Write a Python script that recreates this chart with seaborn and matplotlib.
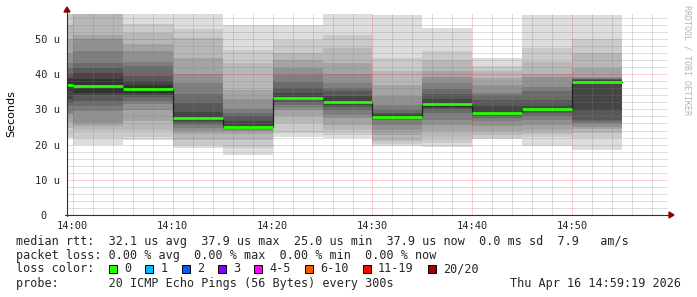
import numpy as np
import pandas as pd
import matplotlib
matplotlib.use("Agg")
import matplotlib.pyplot as plt
from matplotlib.lines import Line2D
from matplotlib.patches import Rectangle, Polygon
import seaborn as sns

# ---------------- data ----------------
slot_start = ["13:55", "14:00", "14:05", "14:10", "14:15", "14:20",
              "14:25", "14:30", "14:35", "14:40", "14:45", "14:50"]
median_rtt_us = [37.0, 36.6, 35.8, 27.5, 25.0, 33.2, 32.0, 27.9, 31.4, 29.0, 30.1, 37.9]

pings_1355 = [21.9, 22.3, 24.7, 26.5, 28.5, 29.0, 31.0, 31.8, 32.9, 35.5,
              38.5, 38.9, 40.0, 41.8, 43.3, 46.1, 50.0, 54.0, 57.0, 58.0]
pings_1400 = [20.0, 21.9, 24.2, 25.2, 26.1, 29.5, 30.9, 32.3, 34.0, 34.6,
              38.6, 40.3, 41.7, 43.3, 46.5, 49.9, 51.2, 58.0, 59.0, 60.0]
pings_1405 = [21.4, 22.3, 24.2, 26.6, 29.9, 31.5, 32.5, 33.5, 34.2, 34.8,
              36.8, 38.0, 39.5, 42.3, 43.4, 46.5, 48.5, 51.6, 54.3, 57.0]
pings_1410 = [19.1, 19.9, 21.2, 22.9, 24.0, 24.7, 25.6, 26.2, 26.6, 27.0,
              28.0, 29.4, 31.9, 34.5, 37.5, 40.1, 44.7, 50.3, 52.7, 57.0]
pings_1415 = [17.1, 19.1, 21.4, 23.0, 24.0, 24.2, 24.4, 24.6, 24.7, 24.8,
              25.2, 26.6, 28.0, 29.0, 30.1, 33.0, 35.6, 43.2, 47.0, 53.9]
pings_1420 = [22.3, 23.3, 26.1, 28.0, 29.9, 30.5, 31.3, 32.0, 32.6, 32.9,
              33.5, 34.6, 36.0, 37.9, 39.8, 41.7, 44.1, 46.0, 49.8, 54.0]
pings_1425 = [21.9, 22.8, 24.2, 25.6, 27.5, 28.5, 29.9, 30.8, 31.2, 31.6,
              32.4, 33.7, 35.1, 36.0, 37.5, 40.1, 43.2, 47.4, 51.2, 57.0]
pings_1430 = [19.5, 20.3, 20.9, 22.8, 24.2, 25.6, 27.1, 27.3, 27.5, 27.6,
              28.2, 28.6, 29.0, 29.9, 31.3, 33.7, 37.0, 40.8, 44.6, 56.9]
pings_1435 = [19.2, 20.5, 22.3, 23.8, 25.6, 27.1, 29.0, 30.0, 30.4, 30.8,
              32.0, 33.0, 34.4, 35.8, 37.5, 39.2, 40.8, 44.0, 46.5, 53.0]
pings_1440 = [21.5, 21.9, 22.8, 23.9, 25.2, 26.6, 27.5, 28.0, 28.3, 28.6,
              29.4, 30.9, 32.7, 34.0, 34.8, 37.0, 39.0, 41.0, 42.2, 44.6]
pings_1445 = [19.5, 22.3, 23.0, 24.2, 25.6, 27.1, 28.0, 28.9, 29.5, 29.9,
              30.3, 31.0, 32.7, 35.1, 36.5, 39.2, 40.1, 43.6, 47.4, 56.9]
pings_1450 = [18.6, 21.9, 23.3, 24.4, 25.0, 25.9, 26.5, 27.1, 29.9, 37.7,
              38.1, 38.3, 38.5, 38.7, 38.9, 39.2, 41.8, 46.0, 50.0, 56.9]
slot_pings = [pings_1355, pings_1400, pings_1405, pings_1410, pings_1415, pings_1420,
              pings_1425, pings_1430, pings_1435, pings_1440, pings_1445, pings_1450]

x_tick_labels = ["14:00", "14:10", "14:20", "14:30", "14:40", "14:50"]
y_tick_values = [0, 10, 20, 30, 40, 50]
y_tick_labels = ["0  ", "10 u", "20 u", "30 u", "40 u", "50 u"]

loss_labels = ["0", "1", "2", "3", "4-5", "6-10", "11-19", "20/20"]
loss_colors = ["#26ff00", "#00b8ff", "#0059ff", "#7e00ff",
               "#ff00ff", "#ff5500", "#ff0000", "#a10000"]

legend_rtt = "median rtt:  32.1 us avg  37.9 us max  25.0 us min  37.9 us now  0.0 ms sd  7.9   am/s"
legend_loss = "packet loss: 0.00 % avg  0.00 % max  0.00 % min  0.00 % now"
legend_probe = "probe:       20 ICMP Echo Pings (56 Bytes) every 300s"
stamp = "Thu Apr 16 14:59:19 2026"
step_min = 5

# ---------------- figure ----------------
sns.set_style("white")
plt.rcParams["font.family"] = ["DejaVu Sans"]
MONO = "DejaVu Sans Mono"

W, H = 697, 297
fig = plt.figure(figsize=(W / 100, H / 100), dpi=100)
fig.patch.set_facecolor("white")
L, R, T, B = 67, 668, 14, 215
ax = fig.add_axes([L / W, (H - B) / H, (R - L) / W, (B - T) / H])
ax.set_facecolor("white")

def to_min(s):
    h, m = s.split(":")
    return int(h) * 60 + int(m) - 14 * 60

starts = np.array([to_min(s) for s in slot_start], dtype=float)
edges = np.append(starts, starts[-1] + step_min)
P = np.array(slot_pings)
n = P.shape[1]
half = n // 2

# smoke bands (smokeping style)
for ibot in range(1, half + 1):
    lo = P[:, ibot - 1]
    hi = P[:, n - ibot]
    g = (int(190 / half * (half - ibot)) + 50) / 255.0
    ax.fill_between(edges, np.append(lo, lo[-1]), np.append(hi, hi[-1]),
                    step="post", color=(g, g, g), linewidth=0, zorder=1)

xmin, xmax = -0.56, 59.56
ymin, ymax = 0, (B - T) / 3.52
ax.set_xlim(xmin, xmax)
ax.set_ylim(ymin, ymax)

# grid (dotted, drawn over smoke)
dots = (0, (1, 1))
minor_c = (0.5, 0.5, 0.5, 0.5)
major_c = (1, 0, 0, 0.38)
for xm in np.arange(2, 59, 2):
    if xm % 10:
        ax.axvline(xm, color=minor_c, lw=0.72, ls=dots, zorder=1.5)
for ym in np.arange(2, 57, 2):
    if ym % 10:
        ax.axhline(ym, color=minor_c, lw=0.72, ls=dots, zorder=1.5)
for xm in range(0, 60, 10):
    ax.axvline(xm, color=major_c, lw=0.72, ls=dots, zorder=1.6)
for ym in range(10, 60, 10):
    ax.axhline(ym, color=major_c, lw=0.72, ls=dots, zorder=1.6)

# median line
med_df = pd.DataFrame({"t": edges, "median": median_rtt_us + [median_rtt_us[-1]]})
sns.lineplot(data=med_df, x="t", y="median", ax=ax, drawstyle="steps-post",
             color="#202020", lw=0.9, estimator=None, zorder=3)
ax.hlines(median_rtt_us, starts, starts + step_min, color=loss_colors[0], lw=2.0, zorder=4)

# ticks
ax.set_xticks([to_min(s) for s in x_tick_labels])
ax.set_xticklabels(x_tick_labels, fontfamily=MONO, fontsize=7.5)
ax.set_yticks(y_tick_values)
ax.set_yticklabels(y_tick_labels, fontfamily=MONO, fontsize=7.5)
ax.tick_params(axis="x", length=0, pad=4)
ax.tick_params(axis="y", length=0, pad=5)
ax.set_xlabel("")
ax.set_ylabel("")
for sp in ax.spines.values():
    sp.set_visible(False)

def fx(x):
    return x / W

def fy(y):
    return 1 - y / H

# axes lines with arrows
axis_col = "#303030"
arrow_col = "#8b0000"
fig.add_artist(Line2D([fx(L), fx(L)], [fy(B + 0.5), fy(10)], color=axis_col, lw=0.8))
fig.add_artist(Line2D([fx(L - 2), fx(670)], [fy(B), fy(B)], color=axis_col, lw=0.8))
fig.add_artist(Polygon([[fx(L - 3), fy(12)], [fx(L + 3), fy(12)], [fx(L), fy(7)]],
                       closed=True, color=arrow_col, transform=fig.transFigure))
fig.add_artist(Polygon([[fx(669), fy(B - 3)], [fx(669), fy(B + 3)], [fx(674), fy(B)]],
                       closed=True, color=arrow_col, transform=fig.transFigure))

# labels
fig.text(fx(11), fy(114), "Seconds", rotation=90, ha="center", va="center",
         fontsize=8, color="black")
fig.text(fx(687.5), fy(5), "RRDTOOL / TOBI OETIKER", rotation=270, ha="center",
         va="top", fontfamily=MONO, fontsize=6, color="#b4b4b4")

# legend area
fs = 8.5
cw = 7.14
x0 = 16
fig.text(fx(x0), fy(241), legend_rtt, fontfamily=MONO, fontsize=fs, va="center")
fig.text(fx(x0), fy(255), legend_loss, fontfamily=MONO, fontsize=fs, va="center")
fig.text(fx(x0), fy(269), "loss color:", fontfamily=MONO, fontsize=fs, va="center")
col = 13.0
for lab, c in zip(loss_labels, loss_colors):
    bx = x0 + col * cw
    fig.add_artist(Rectangle((fx(bx), fy(273)), 8 / W, 8 / H, transform=fig.transFigure,
                             facecolor=c, edgecolor="black", lw=0.7))
    tcol = col + 2.1
    fig.text(fx(x0 + tcol * cw), fy(269), lab, fontfamily=MONO, fontsize=fs, va="center")
    col = tcol + len(lab) + 2
fig.text(fx(x0), fy(283), legend_probe, fontfamily=MONO, fontsize=fs, va="center")
fig.text(fx(681), fy(283), stamp, fontfamily=MONO, fontsize=fs, va="center", ha="right")

fig.savefig("out.png", dpi=100, facecolor="white")
